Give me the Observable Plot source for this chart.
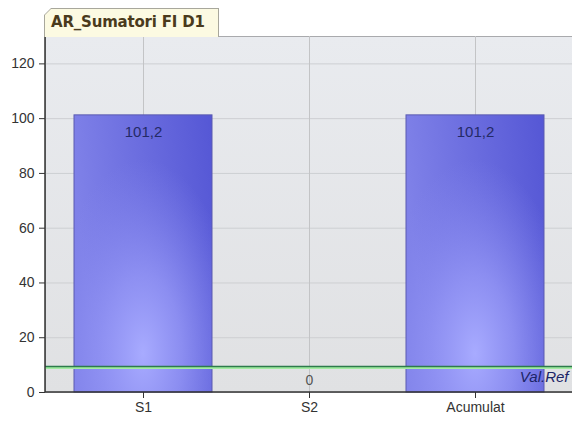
<!DOCTYPE html>
<html><head><meta charset="utf-8">
<script src="https://cdn.jsdelivr.net/npm/d3@7"></script>
<script src="https://cdn.jsdelivr.net/npm/@observablehq/plot@0.6"></script>
<style>
html,body{margin:0;padding:0;background:#fff;}
#wrap{width:572px;font-family:"Liberation Sans",Arial,sans-serif;}
#head{position:relative;height:36px;}
#tabOuter{position:absolute;left:44px;top:8px;width:175px;height:29px;background:#a8a79c;
  clip-path:polygon(7px 0,100% 0,100% 100%,0 100%,0 7px);}
#tabInner{position:absolute;left:1px;top:1px;right:1px;bottom:0;background:#fcfae2;
  clip-path:polygon(6px 0,100% 0,100% 100%,0 100%,0 6px);
  font:bold 15px "DejaVu Sans",Verdana,sans-serif;color:#4a3a1c;line-height:27px;padding-left:6px;white-space:nowrap;letter-spacing:-0.2px;}
svg{display:block;}
</style></head>
<body>
<div id="wrap">
  <div id="head"><div id="tabOuter"><div id="tabInner">AR_Sumatori FI D1</div></div></div>
  <div id="chart"></div>
</div>
<script>
const categories = ["S1", "S2", "Acumulat"];
const values = [101.2, 0, 101.2];
const refValue = 9.5;
const refLabel = "Val.Ref";
const yTicks = [0, 20, 40, 60, 80, 100, 120];

const data = categories.map((c, i) => ({cat: c, value: values[i]}));
const fmt = v => d3.format(".1~f")(v).replace(".", ",");

function defs() {
  const g = d3.create("svg:g");
  const d = g.append("defs");
  const bg = d.append("linearGradient").attr("id", "bgGrad").attr("x1", 0).attr("y1", 0).attr("x2", 0).attr("y2", 1);
  bg.append("stop").attr("offset", "0%").attr("stop-color", "#e9ebef");
  bg.append("stop").attr("offset", "100%").attr("stop-color", "#e0e1e3");
  const base = d.append("linearGradient").attr("id", "barBase").attr("x1", 0).attr("y1", 0.2).attr("x2", 1).attr("y2", 0);
  base.append("stop").attr("offset", "0%").attr("stop-color", "#7f81e8");
  base.append("stop").attr("offset", "100%").attr("stop-color", "#5557d5");
  const rad = d.append("radialGradient").attr("id", "barGlow")
    .attr("cx", 0.5).attr("cy", 0.86).attr("r", 0.7);
  rad.append("stop").attr("offset", "0%").attr("stop-color", "#a8abff").attr("stop-opacity", 1);
  rad.append("stop").attr("offset", "40%").attr("stop-color", "#9597f6").attr("stop-opacity", 0.8);
  rad.append("stop").attr("offset", "100%").attr("stop-color", "#8486ee").attr("stop-opacity", 0);
  return g.node();
}

function axisLines(index, scales, vals, dims) {
  const g = d3.create("svg:g").attr("stroke", "#333").attr("stroke-width", 1.5);
  const l = dims.marginLeft, b = dims.height - dims.marginBottom;
  g.append("line").attr("x1", l).attr("x2", l).attr("y1", dims.marginTop).attr("y2", b);
  g.append("line").attr("x1", l).attr("x2", dims.width - dims.marginRight).attr("y1", b).attr("y2", b);
  return g.node();
}

const chart = Plot.plot({
  width: 572,
  height: 389,
  marginTop: 0,
  marginBottom: 33,
  marginLeft: 45,
  marginRight: 0,
  style: {fontFamily: "'Liberation Sans', Arial, sans-serif", fontSize: "14px", color: "#333", background: "#fff"},
  x: {domain: categories, padding: 0.17},
  y: {domain: [0, 130]},
  marks: [
    defs,
    Plot.frame({fill: "url(#bgGrad)", stroke: "#a9aaad"}),
    Plot.gridY({ticks: yTicks, stroke: "#cdcfd2", strokeOpacity: 1}),
    Plot.gridX({stroke: "#c3c4c6", strokeOpacity: 1}),
    Plot.barY(data, {x: "cat", y: "value", fill: "url(#barBase)"}),
    Plot.barY(data, {x: "cat", y: "value", fill: "url(#barGlow)", stroke: "#5a5bb0", strokeWidth: 1}),
    Plot.ruleY([refValue], {stroke: "#a2eca2", strokeWidth: 2, dy: 1.5}),
    Plot.ruleY([refValue], {stroke: "#2d7a4c", strokeWidth: 1.3}),
    Plot.text([refValue], {y: d => d, text: () => refLabel, frameAnchor: "right", textAnchor: "end", dx: -4, dy: 11,
      fontStyle: "italic", fill: "#1c2466", fontSize: 15}),
    Plot.text(data.filter(d => d.value > 0), {x: "cat", y: "value", text: d => fmt(d.value), dy: 17, fill: "#242a66", fontSize: 15}),
    Plot.text(data.filter(d => d.value === 0), {x: "cat", y: "value", text: d => fmt(d.value), dy: -12, fill: "#555", fontSize: 14}),
    Plot.axisY({ticks: yTicks, tickSize: 6, tickPadding: 5, label: null, fontSize: 14}),
    Plot.axisX({tickSize: 6, tickPadding: 4, label: null, fontSize: 14}),
    axisLines
  ]
});
document.getElementById("chart").appendChild(chart);
</script>
</body></html>
